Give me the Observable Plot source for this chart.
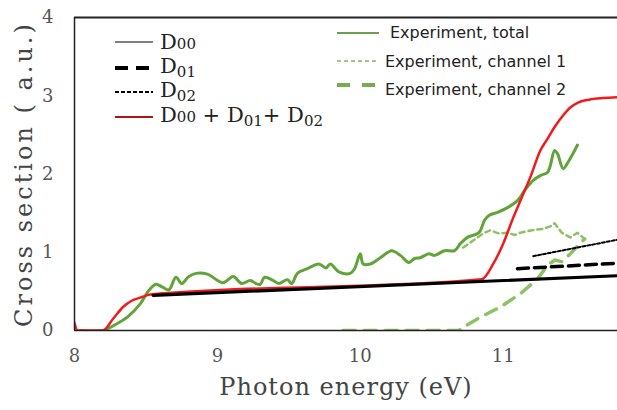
<!DOCTYPE html>
<html><head><meta charset="utf-8">
<script src="https://cdn.jsdelivr.net/npm/d3@7"></script>
<script src="https://cdn.jsdelivr.net/npm/@observablehq/plot@0.6"></script>
<style>
body{margin:0;background:#fff;}
#wrap{position:relative;width:617px;height:410px;overflow:hidden;background:#fff;}
.lg{position:absolute;white-space:nowrap;line-height:1;}
.ser{font-family:"DejaVu Serif",serif;font-size:21px;color:#222;}
.san{font-family:"DejaVu Sans",sans-serif;font-size:16px;color:#222;}
.ser sub{font-size:15px;vertical-align:-4px;}
.ser small{font-size:15px;}
svg.sw{position:absolute;overflow:visible;}
</style></head>
<body><div id="wrap"></div>
<script>
// ---- data ----
const xTicks = [8, 9, 10, 11];
const yTicks = [0, 1, 2, 3, 4];

const totalX = [8.04,8.2,8.27,8.37,8.46,8.52,8.57,8.61,8.66,8.71,8.75,8.8,8.85,8.93,9.04,9.11,9.17,9.23,9.27,9.3,9.33,9.39,9.43,9.49,9.52,9.56,9.63,9.71,9.76,9.79,9.85,9.93,9.96,10.0,10.02,10.07,10.14,10.22,10.28,10.34,10.38,10.42,10.48,10.52,10.59,10.66,10.7,10.75,10.83,10.87,10.9,10.96,11.03,11.1,11.15,11.21,11.26,11.31,11.33,11.36,11.38,11.42,11.46,11.52];
const totalY = [0,0,0.06,0.17,0.34,0.51,0.59,0.56,0.52,0.68,0.6,0.69,0.73,0.72,0.61,0.69,0.6,0.64,0.6,0.59,0.68,0.64,0.6,0.65,0.6,0.73,0.79,0.85,0.8,0.85,0.75,0.73,0.79,0.98,0.85,0.85,0.93,1.02,0.96,0.87,0.92,0.93,0.98,0.96,1.02,1.02,1.11,1.19,1.25,1.41,1.47,1.51,1.57,1.66,1.79,1.92,1.98,2.02,2.11,2.3,2.26,2.07,2.17,2.37];

const ch1X = [10.72,10.79,10.86,10.91,10.97,11.03,11.08,11.12,11.2,11.28,11.33,11.36,11.41,11.47,11.52,11.57];
const ch1Y = [1.06,1.15,1.24,1.28,1.24,1.25,1.22,1.25,1.28,1.3,1.33,1.37,1.25,1.19,1.25,1.17];

const ch2X = [9.88,10.69,10.72,10.84,10.98,11.12,11.24,11.31,11.36,11.41,11.47,11.53,11.57];
const ch2Y = [0,0,0.04,0.17,0.3,0.47,0.66,0.83,0.9,0.88,0.98,1.1,1.17];

const sumX = [8.0,8.02,8.2,8.27,8.34,8.4,8.46,8.53,10.85,10.93,11.0,11.07,11.13,11.19,11.26,11.31,11.36,11.42,11.47,11.52,11.6,11.7,11.8];
const sumY = [0.1,0,0,0.15,0.3,0.38,0.42,0.46,0.655,0.85,1.11,1.44,1.7,1.96,2.3,2.45,2.6,2.75,2.85,2.91,2.95,2.97,2.98];

const d00X = [8.55, 11.8];
const d00Y = [0.45, 0.70];
const d01X = [11.1, 11.8];
const d01Y = [0.79, 0.86];
const d02X = [11.21, 11.8];
const d02Y = [0.95, 1.16];

const xLabel = "Photon energy (eV)";
const yLabel = "Cross section ( a.u.)";

// ---- build ----
const pts = (xs, ys) => xs.map((x, i) => ({x, y: ys[i]}));
const GREEN = "#62a33a", LGREEN = "#8cc265";

const plot = Plot.plot({
  width: 617, height: 410,
  marginLeft: 74, marginRight: 0, marginTop: 17, marginBottom: 80,
  style: {fontFamily: "DejaVu Serif, serif", background: "transparent"},
  x: {domain: [8, 11.8]},
  y: {domain: [0, 4]},
  marks: [
    Plot.axisX({ticks: xTicks, tickFormat: d3.format("d"), tickSize: 0, tickPadding: 19, fontSize: 18, fill: "#555", label: null}),
    Plot.axisY({ticks: yTicks, tickFormat: d3.format("d"), tickSize: 0, tickPadding: 21, fontSize: 18, fill: "#555", label: null}),
    Plot.lineY(pts(ch2X, ch2Y), {x: "x", y: "y", stroke: LGREEN, strokeWidth: 3.5, strokeDasharray: "12,9", clip: true}),
    Plot.lineY(pts(ch1X, ch1Y), {x: "x", y: "y", stroke: LGREEN, strokeWidth: 2.5, strokeDasharray: "5,4", clip: true}),
    Plot.lineY(pts(totalX, totalY), {x: "x", y: "y", stroke: GREEN, strokeWidth: 3, curve: "catmull-rom", clip: true}),
    Plot.lineY(pts(sumX, sumY), {x: "x", y: "y", stroke: "#ee1c1c", strokeWidth: 2.5, curve: "monotone-x", clip: true}),
    Plot.lineY(pts(d00X, d00Y), {x: "x", y: "y", stroke: "#000", strokeWidth: 3.2, clip: true}),
    Plot.lineY(pts(d01X, d01Y), {x: "x", y: "y", stroke: "#000", strokeWidth: 3.5, strokeDasharray: "11,6", clip: true}),
    Plot.lineY(pts(d02X, d02Y), {x: "x", y: "y", stroke: "#000", strokeWidth: 2, strokeDasharray: "3,2", clip: true}),
    Plot.ruleY([4], {stroke: "#222", strokeWidth: 2}),
    Plot.ruleY([0], {stroke: "#222", strokeWidth: 1.5}),
    Plot.ruleX([8], {stroke: "#222", strokeWidth: 1.5}),
    Plot.text([xLabel], {frameAnchor: "bottom", dy: 64, fontSize: 24, fill: "#444"}),
    Plot.text([yLabel], {frameAnchor: "left", dx: -50, rotate: -90, textAnchor: "middle", fontSize: 24, fill: "#444"})
  ]
});
const wrap = document.getElementById("wrap");
wrap.appendChild(plot);
// letter-spacing for axis titles
plot.querySelectorAll("text").forEach(t => {
  if (t.textContent === xLabel) t.setAttribute("letter-spacing", "1");
  if (t.textContent === yLabel) t.setAttribute("letter-spacing", "3");
});

// ---- legend (HTML overlay) ----
function sample(x, y, w, stroke, sw, dash) {
  const s = document.createElementNS("http://www.w3.org/2000/svg", "svg");
  s.setAttribute("class", "sw");
  s.setAttribute("width", w); s.setAttribute("height", 10);
  s.style.left = x + "px"; s.style.top = (y - 5) + "px";
  const l = document.createElementNS("http://www.w3.org/2000/svg", "line");
  l.setAttribute("x1", 0); l.setAttribute("x2", w); l.setAttribute("y1", 5); l.setAttribute("y2", 5);
  l.setAttribute("stroke", stroke); l.setAttribute("stroke-width", sw);
  if (dash) l.setAttribute("stroke-dasharray", dash);
  s.appendChild(l); wrap.appendChild(s);
}
function label(x, yc, html, cls) {
  const d = document.createElement("div");
  d.className = "lg " + cls; d.innerHTML = html;
  d.style.left = x + "px"; d.style.top = yc + "px"; d.style.transform = "translateY(-50%)";
  wrap.appendChild(d);
}
const leftLegend = [
  {y: 42, html: "D<small>00</small>", stroke: "#000", sw: 1.2, dash: null},
  {y: 68, html: "D<sub>01</sub>", stroke: "#000", sw: 4, dash: "13,8"},
  {y: 92, html: "D<sub>02</sub>", stroke: "#000", sw: 1.8, dash: "4,2"},
  {y: 117, html: "D<small>00</small> + D<sub>01</sub>+ D<sub>02</sub>", stroke: "#b01515", sw: 2, dash: null}
];
leftLegend.forEach(r => { sample(115, r.y, 38, r.stroke, r.sw, r.dash); label(160, r.y, r.html, "ser"); });
const rightLegend = [
  {y: 33, tx: 390, ty: 33, html: "Experiment, total", stroke: "#6e9f4d", sw: 2, dash: null},
  {y: 61, tx: 385, ty: 62, html: "Experiment, channel 1", stroke: "#86b35f", sw: 1.6, dash: "4,3"},
  {y: 85, tx: 385, ty: 90, html: "Experiment, channel 2", stroke: "#7aab52", sw: 4, dash: "13,12"}
];
rightLegend.forEach(r => { sample(337, r.y, 42, r.stroke, r.sw, r.dash); label(r.tx, r.ty, r.html, "san"); });
</script></body></html>
